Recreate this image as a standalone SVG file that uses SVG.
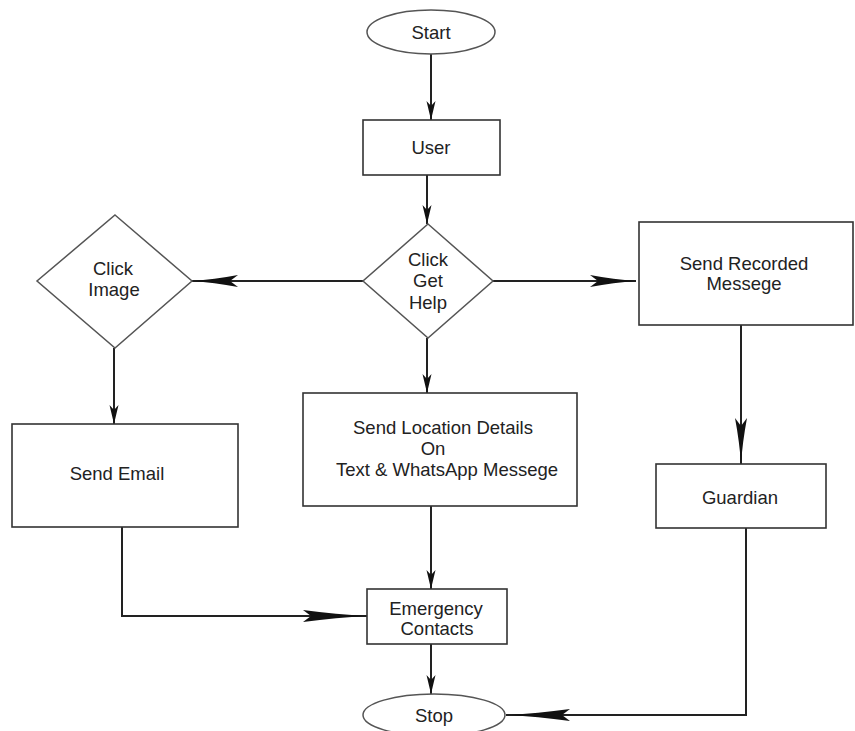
<svg xmlns="http://www.w3.org/2000/svg" width="855" height="731" viewBox="0 0 855 731">
<style>
.box{fill:#fff;stroke:#333;stroke-width:1.6}
.dia{fill:#fff;stroke:#555;stroke-width:1.5}
.t{font-family:"Liberation Sans",Arial,sans-serif;font-size:18.5px;fill:#222;text-anchor:middle}
.c{fill:none;stroke:#222;stroke-width:2}
</style>
<defs>
<marker id="as" viewBox="-20 -6 21 12" refX="0" refY="0" markerWidth="21" markerHeight="12" markerUnits="userSpaceOnUse" orient="auto">
<path d="M0,0 L-19,-4.5 L-14,0 L-19,4.5 Z" fill="#111"/>
</marker>
<marker id="am" viewBox="-48 -7 49 14" refX="0" refY="0" markerWidth="49" markerHeight="14" markerUnits="userSpaceOnUse" orient="auto">
<path d="M0,0 Q-22,-1.5 -46,-6 L-38,0 L-46,6 Q-22,1.5 0,0 Z" fill="#111"/>
</marker>
<marker id="al" viewBox="-66 -7 67 14" refX="0" refY="0" markerWidth="67" markerHeight="14" markerUnits="userSpaceOnUse" orient="auto">
<path d="M0,0 Q-30,-1.5 -64,-6 L-56,0 L-64,6 Q-30,1.5 0,0 Z" fill="#111"/>
</marker>
</defs>
<rect width="855" height="731" fill="#fff"/>
<g id="connectors">
<path class="c" d="M431,54 L431,120" marker-end="url(#as)"/>
<path class="c" d="M427,175 L427,224" marker-end="url(#as)"/>
<path class="c" d="M363,281 L192,281" marker-end="url(#am)"/>
<path class="c" d="M493,281 L636,281" marker-end="url(#am)"/>
<path class="c" d="M427,338 L427,393" marker-end="url(#as)"/>
<path class="c" d="M114,348 L114,424" marker-end="url(#as)"/>
<path class="c" d="M741,325 L741,464" marker-end="url(#am)"/>
<path class="c" d="M431,506 L431,589" marker-end="url(#as)"/>
<path class="c" d="M122,527 L122,616 L367,616" marker-end="url(#al)"/>
<path class="c" d="M431,644 L431,694" marker-end="url(#as)"/>
<path class="c" d="M746,528 L746,715 L506,715" marker-end="url(#al)"/>
</g>
<g id="start">
<ellipse cx="431" cy="32" rx="64" ry="22" class="dia"/>
<text class="t" x="431" y="38.5">Start</text>
</g>
<g id="user">
<rect x="363" y="120" width="137" height="55" class="box"/>
<text class="t" x="431" y="153.5">User</text>
</g>
<g id="click-get-help">
<polygon points="428,224 493,281 428,338 363,281" class="dia"/>
<text class="t" x="428" y="265.5">Click</text>
<text class="t" x="428" y="287">Get</text>
<text class="t" x="428" y="308.5">Help</text>
</g>
<g id="click-image">
<polygon points="115,215 192,281 115,348 37,281" class="dia"/>
<text class="t" x="113" y="274.5">Click</text>
<text class="t" x="114" y="296">Image</text>
</g>
<g id="send-recorded">
<rect x="639" y="222" width="214" height="103" class="box"/>
<text class="t" x="744" y="269.5">Send Recorded</text>
<text class="t" x="744" y="289.5">Messege</text>
</g>
<g id="send-email">
<rect x="12" y="424" width="226" height="103" class="box"/>
<text class="t" x="117" y="480">Send Email</text>
</g>
<g id="send-location">
<rect x="303" y="393" width="274" height="113" class="box"/>
<text class="t" x="443" y="433.5">Send Location Details</text>
<text class="t" x="433" y="454.5">On</text>
<text class="t" x="447" y="475.5">Text &amp; WhatsApp Messege</text>
</g>
<g id="guardian">
<rect x="656" y="464" width="170" height="64" class="box"/>
<text class="t" x="740" y="503.5">Guardian</text>
</g>
<g id="emergency-contacts">
<rect x="367" y="589" width="140" height="55" class="box"/>
<text class="t" x="436" y="614.5">Emergency</text>
<text class="t" x="437" y="634.5">Contacts</text>
</g>
<g id="stop">
<ellipse cx="434" cy="715" rx="71" ry="21" class="dia"/>
<text class="t" x="434" y="721.5">Stop</text>
</g>
</svg>
